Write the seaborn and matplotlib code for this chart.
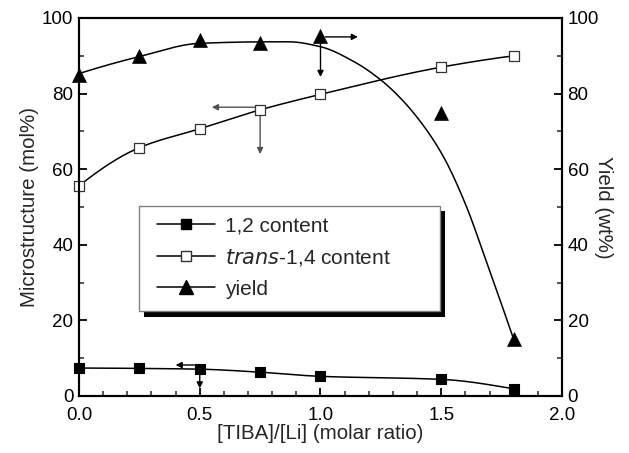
import numpy as np
import pandas as pd
import matplotlib
matplotlib.use("Agg")
import matplotlib.pyplot as plt
from matplotlib.lines import Line2D
from matplotlib.patches import Rectangle
from matplotlib.ticker import MultipleLocator, FormatStrFormatter
import seaborn as sns

# TIBA/Li molar ratio
ratio = [0.0, 0.25, 0.5, 0.75, 1.0, 1.5, 1.8]
# microstructure (mol%)
content_12 = [7.4, 7.3, 7.1, 6.3, 5.2, 4.4, 1.9]
content_trans14 = [55.6, 65.7, 70.7, 75.7, 79.8, 87.0, 90.0]
# polymer yield (wt%)
yield_wt = [85.0, 90.0, 94.3, 93.5, 95.3, 75.0, 15.0]

# knots of the trend curve drawn for the yield
yield_fit_x = [0.0, 0.25, 0.5, 0.79, 0.87, 1.0, 1.14, 1.25, 1.34, 1.43, 1.51, 1.6, 1.69, 1.8]
yield_fit_y = [85.3, 89.8, 93.3, 93.7, 93.7, 92.4, 88.4, 83.6, 78.2, 71.2, 63.2, 50.8, 35.0, 15.0]

# axis-assignment arrows: (x0, y0, x1, y1)
arrow_12 = [(0.5, 8.2, 0.40, 8.2), (0.5, 7.1, 0.5, 2.0)]
arrow_trans = [(0.75, 76.4, 0.55, 76.4), (0.75, 75.7, 0.75, 64.0)]
arrow_yield = [(1.02, 95.0, 1.155, 95.0), (1.0, 94.3, 1.0, 84.4)]


def pchip(xk, yk, xs):
    """Monotone piecewise-cubic Hermite curve through the knots."""
    xk = np.asarray(xk, float)
    yk = np.asarray(yk, float)
    h = np.diff(xk)
    delta = np.diff(yk) / h
    n = len(xk)
    d = np.zeros(n)
    for k in range(1, n - 1):
        if delta[k - 1] * delta[k] > 0:
            w1 = 2 * h[k] + h[k - 1]
            w2 = h[k] + 2 * h[k - 1]
            d[k] = (w1 + w2) / (w1 / delta[k - 1] + w2 / delta[k])

    def end(h0, h1, d0, d1):
        s = ((2 * h0 + h1) * d0 - h0 * d1) / (h0 + h1)
        if np.sign(s) != np.sign(d0):
            return 0.0
        if np.sign(d0) != np.sign(d1) and abs(s) > abs(3 * d0):
            return 3 * d0
        return s

    d[0] = end(h[0], h[1], delta[0], delta[1])
    d[-1] = end(h[-1], h[-2], delta[-1], delta[-2])
    idx = np.clip(np.searchsorted(xk, xs) - 1, 0, n - 2)
    t = (xs - xk[idx]) / h[idx]
    h00 = 2 * t ** 3 - 3 * t ** 2 + 1
    h10 = t ** 3 - 2 * t ** 2 + t
    h01 = -2 * t ** 3 + 3 * t ** 2
    h11 = t ** 3 - t ** 2
    return (h00 * yk[idx] + h10 * h[idx] * d[idx]
            + h01 * yk[idx + 1] + h11 * h[idx] * d[idx + 1])


sns.set_theme(style="ticks")
plt.rcParams["font.family"] = ["Liberation Sans", "DejaVu Sans"]
plt.rcParams["axes.linewidth"] = 1.5

W, H = 629, 453
fig = plt.figure(figsize=(W / 100, H / 100), dpi=100)
ax = fig.add_axes([79 / W, 1 - 396 / H, (562 - 79) / W, (396 - 18) / H])
ax2 = ax.twinx()

xs = np.linspace(0, 1.8, 400)
curves = pd.DataFrame({
    "x": xs,
    "c12": pchip(ratio, content_12, xs),
    "trans": pchip(ratio, content_trans14, xs),
    "yield": pchip(yield_fit_x, yield_fit_y, xs),
})
pts = pd.DataFrame({"x": ratio, "c12": content_12,
                    "trans": content_trans14, "yield": yield_wt})

sns.lineplot(data=curves, x="x", y="c12", ax=ax, color="black", lw=1.1)
sns.lineplot(data=curves, x="x", y="trans", ax=ax, color="black", lw=1.1)
sns.lineplot(data=curves, x="x", y="yield", ax=ax2, color="black", lw=1.1)

sns.scatterplot(data=pts, x="x", y="c12", ax=ax, marker="s", s=55,
                color="black", edgecolor="black", linewidth=0.8, zorder=5, clip_on=False)
sns.scatterplot(data=pts, x="x", y="trans", ax=ax, marker="s", s=55,
                color="white", edgecolor="#333333", linewidth=0.9, zorder=5, clip_on=False)
sns.scatterplot(data=pts, x="x", y="yield", ax=ax2, marker="^", s=100,
                color="black", edgecolor="black", linewidth=0.5, zorder=5, clip_on=False)


def draw_arrows(axis, arrows, color):
    for x0, y0, x1, y1 in arrows:
        axis.annotate("", xy=(x1, y1), xytext=(x0, y0),
                      arrowprops=dict(arrowstyle="-|>", color=color, lw=1.0,
                                      mutation_scale=9, shrinkA=0, shrinkB=0))


draw_arrows(ax, arrow_12, "black")
draw_arrows(ax, arrow_trans, "#505050")
draw_arrows(ax2, arrow_yield, "black")

for a in (ax, ax2):
    a.set_xlim(0, 2.0)
    a.set_ylim(0, 100)
    a.yaxis.set_major_locator(MultipleLocator(20))
    a.yaxis.set_minor_locator(MultipleLocator(10))
    a.tick_params(axis="both", which="major", direction="in", length=6, width=1.3,
                  labelsize=13.5, colors="black", pad=4)
    a.tick_params(axis="both", which="minor", direction="in", length=3.5, width=1.1)
    for s in a.spines.values():
        s.set_linewidth(1.5)
        s.set_color("black")

ax.xaxis.set_major_locator(MultipleLocator(0.5))
ax.xaxis.set_minor_locator(MultipleLocator(0.1))
ax.xaxis.set_major_formatter(FormatStrFormatter("%.1f"))
ax.tick_params(axis="x", which="major", pad=8)
ax.tick_params(top=False, which="both")
ax2.tick_params(axis="x", top=False, bottom=False, which="both")
ax.tick_params(axis="y", right=False, which="both")

ax.set_xlabel("[TIBA]/[Li] (molar ratio)", fontsize=14.8, labelpad=0)
ax.set_ylabel("Microstructure (mol%)", fontsize=14.8, labelpad=2)
ax2.set_ylabel("Yield (wt%)", fontsize=14.8, rotation=270, labelpad=10)

# legend box with its drop shadow
def px_rect(x0, y0, x1, y1, **kw):
    return Rectangle((x0 / W, 1 - y1 / H), (x1 - x0) / W, (y1 - y0) / H,
                     transform=fig.transFigure, **kw)


fig.add_artist(px_rect(144, 211, 445, 317, facecolor="black", edgecolor="none", zorder=3))
fig.add_artist(px_rect(139, 206, 440, 311, facecolor="white", edgecolor="#808080",
                       lw=1.0, zorder=4))

handles = [
    Line2D([], [], color="black", lw=1.1, marker="s", ms=7.5,
           mfc="black", mec="black"),
    Line2D([], [], color="black", lw=1.1, marker="s", ms=7.5,
           mfc="white", mec="#333333"),
    Line2D([], [], color="black", lw=1.1, marker="^", ms=10,
           mfc="black", mec="black"),
]
labels = ["1,2 content", "$\\it{trans}$-1,4 content", "yield"]
leg = fig.legend(handles, labels, loc="upper left",
                 bbox_to_anchor=(157 / W, 1 - 216 / H),
                 fontsize=15, handlelength=2.8, handletextpad=0.48,
                 labelspacing=0.57, borderpad=0, borderaxespad=0,
                 frameon=False)
leg.set_zorder(6)

fig.savefig("out.png", dpi=100)
